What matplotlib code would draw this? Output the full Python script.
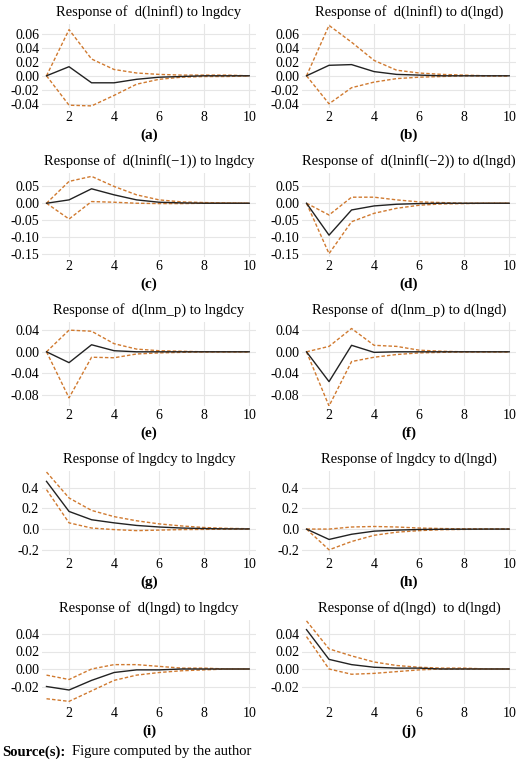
import numpy as np
import matplotlib.pyplot as plt

plt.rcParams['font.family'] = ['Liberation Serif', 'DejaVu Serif']

steps = np.arange(1, 11)

titles = ["Response of  d(lninfl) to lngdcy", "Response of  d(lninfl) to d(lngd)",
          "Response of  d(lninfl(\u22121)) to lngdcy", "Response of  d(lninfl(\u22122)) to d(lngd)",
          "Response of  d(lnm_p) to lngdcy", "Response of  d(lnm_p) to d(lngd)",
          "Response of lngdcy to lngdcy", "Response of lngdcy to d(lngd)",
          "Response of  d(lngd) to lngdcy", "Response of d(lngd)  to d(lngd)"]
letters = ["(a)", "(b)", "(c)", "(d)", "(e)", "(f)", "(g)", "(h)", "(i)", "(j)"]

mid = [
    [0, 0.013, -0.01, -0.01, -0.005, -0.002, -0.001, 0, 0, 0],
    [0, 0.015, 0.016, 0.006, 0.002, 0.001, 0, 0, 0, 0],
    [0, 0.01, 0.043, 0.025, 0.01, 0.003, 0.001, 0, 0, 0],
    [0, -0.095, -0.02, -0.008, -0.003, -0.001, 0, 0, 0, 0],
    [0, -0.02, 0.013, 0.002, 0, 0, 0, 0, 0, 0],
    [0, -0.055, 0.012, -0.001, 0, 0, 0, 0, 0, 0],
    [0.46, 0.17, 0.09, 0.06, 0.035, 0.02, 0.01, 0.005, 0.002, 0.001],
    [0, -0.1, -0.05, -0.02, -0.01, -0.004, -0.002, -0.001, 0, 0],
    [-0.02, -0.024, -0.013, -0.004, -0.001, -0.001, 0, 0, 0, 0],
    [0.045, 0.011, 0.005, 0.002, 0.001, 0.001, 0, 0, 0, 0],
]
upper = [
    [0, 0.066, 0.024, 0.009, 0.004, 0.002, 0.001, 0.001, 0.001, 0],
    [0, 0.072, 0.048, 0.022, 0.008, 0.004, 0.002, 0.001, 0, 0],
    [0, 0.065, 0.08, 0.05, 0.025, 0.01, 0.004, 0.002, 0.001, 0],
    [0, -0.035, 0.018, 0.018, 0.01, 0.004, 0.002, 0, 0, 0],
    [0, 0.04, 0.038, 0.015, 0.005, 0.002, 0.001, 0, 0, 0],
    [0, 0.01, 0.043, 0.012, 0.01, 0.003, 0.001, 0, 0, 0],
    [0.55, 0.3, 0.18, 0.12, 0.08, 0.05, 0.03, 0.015, 0.007, 0.003],
    [0, 0.0, 0.02, 0.025, 0.02, 0.01, 0.005, 0.002, 0.001, 0],
    [-0.007, -0.012, 0, 0.005, 0.005, 0.003, 0.001, 0.001, 0, 0],
    [0.055, 0.023, 0.015, 0.008, 0.004, 0.002, 0.001, 0.001, 0, 0],
]
lower = [
    [0, -0.042, -0.043, -0.028, -0.012, -0.005, -0.002, -0.001, -0.001, 0],
    [0, -0.04, -0.017, -0.009, -0.004, -0.002, -0.001, 0, 0, 0],
    [0, -0.047, 0.005, 0.003, 0, -0.001, -0.001, 0, 0, 0],
    [0, -0.15, -0.055, -0.03, -0.015, -0.006, -0.002, -0.001, 0, 0],
    [0, -0.085, -0.01, -0.011, -0.004, -0.002, -0.001, 0, 0, 0],
    [0, -0.1, -0.018, -0.01, -0.005, -0.002, -0.001, 0, 0, 0],
    [0.38, 0.06, 0.01, -0.005, -0.015, -0.01, -0.005, -0.003, -0.001, 0],
    [0, -0.2, -0.12, -0.06, -0.03, -0.015, -0.006, -0.003, -0.001, 0],
    [-0.034, -0.037, -0.025, -0.013, -0.007, -0.004, -0.002, -0.001, 0, 0],
    [0.037, 0, -0.006, -0.005, -0.003, -0.001, 0, 0, 0, 0],
]
yticks = [
    [-0.04, -0.02, 0, 0.02, 0.04, 0.06], [-0.04, -0.02, 0, 0.02, 0.04, 0.06],
    [-0.15, -0.10, -0.05, 0, 0.05], [-0.15, -0.10, -0.05, 0, 0.05],
    [-0.08, -0.04, 0, 0.04], [-0.08, -0.04, 0, 0.04],
    [-0.2, 0, 0.2, 0.4], [-0.2, 0, 0.2, 0.4],
    [-0.02, 0, 0.02, 0.04], [-0.02, 0, 0.02, 0.04],
]
ylims = [(-0.046, 0.074), (-0.046, 0.074), (-0.16, 0.09), (-0.16, 0.09),
         (-0.1, 0.055), (-0.1, 0.055), (-0.25, 0.56), (-0.25, 0.56),
         (-0.04, 0.056), (-0.04, 0.056)]
fmts = ["%.2f"] * 6 + ["%.1f"] * 2 + ["%.2f"] * 2

W, H = 520, 760
fig = plt.figure(figsize=(W / 100, H / 100), dpi=100)
row_top = [24, 173, 322, 471, 620]
ph = 84
for k in range(10):
    r, c = divmod(k, 2)
    x0 = 42 if c == 0 else 302
    y0 = row_top[r]
    ax = fig.add_axes([x0 / W, 1 - (y0 + ph) / H, 214 / W, ph / H])
    ax.plot(steps, upper[k], color='#d07a30', lw=1, ls=(0, (2.5, 1.5)))
    ax.plot(steps, lower[k], color='#d07a30', lw=1, ls=(0, (2.5, 1.5)))
    ax.plot(steps, mid[k], color='#222222', lw=1)
    ax.set_xlim(0.8, 10.3)
    ax.set_ylim(*ylims[k])
    ax.set_xticks([2, 4, 6, 8, 10])
    ax.set_yticks(yticks[k])
    ax.yaxis.set_major_formatter(plt.FormatStrFormatter(fmts[k]))
    ax.grid(color='#e6e6e6', lw=0.8)
    ax.set_axisbelow(True)
    for s in ax.spines.values():
        s.set_visible(False)
    ax.tick_params(length=0, labelsize=10, pad=2)
    ax.set_title(titles[k], fontsize=10.5, pad=6)
    fig.text((x0 + 107) / W, 1 - (y0 + ph + 27) / H, letters[k], ha='center',
             va='center', fontsize=11, fontweight='bold')

fig.text(2 / W, 1 - 752 / H, "Source(s):", fontsize=10.5, fontweight='bold', va='center')
fig.text(72 / W, 1 - 752 / H, "Figure computed by the author", fontsize=10.5, va='center')
fig.savefig("out.png", dpi=100)
